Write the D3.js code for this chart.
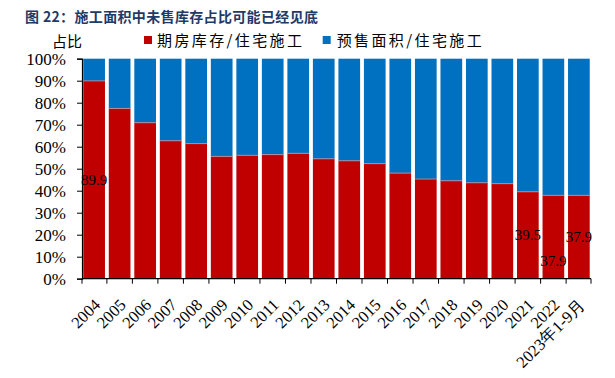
<!DOCTYPE html>
<html>
<head>
<meta charset="utf-8">
<script src="https://cdn.jsdelivr.net/npm/d3@7"></script>
<style>
    body { margin: 0; background: #fff; }
</style>
</head>
<body>
<div id="chart-container"></div>
<script>
// Data
const years = ['2004', '2005', '2006', '2007', '2008', '2009', '2010', '2011', '2012', '2013',
    '2014', '2015', '2016', '2017', '2018', '2019', '2020', '2021', '2022', '2023年1-9月'];
const inventoryShare = [89.9, 77.4, 70.9, 62.7, 61.4, 55.6, 56.1, 56.4, 57.0, 54.5,
    53.6, 52.3, 48.0, 45.3, 44.5, 43.6, 43.2, 39.5, 37.9, 37.9];
const presaleShare = [10.1, 22.6, 29.1, 37.3, 38.6, 44.4, 43.9, 43.6, 43.0, 45.5,
    46.4, 47.7, 52.0, 54.7, 55.5, 56.4, 56.8, 60.5, 62.1, 62.1];
const labelledYears = ['2004', '2021', '2022', '2023年1-9月'];
const yTicks = [0, 10, 20, 30, 40, 50, 60, 70, 80, 90, 100];
const seriesNames = ['期房库存/住宅施工', '预售面积/住宅施工'];

const W = 615, H = 378;
const margin = {top: 58.7, right: 24, bottom: 99.3, left: 82};
const width = W - margin.left - margin.right;
const height = H - margin.top - margin.bottom;
const serif = '"Times New Roman", "Liberation Serif", "DejaVu Serif", serif';
const cjk = '"Noto Sans CJK SC", sans-serif';
const red = '#C00000', blue = '#0070C0';

const svg = d3.select('#chart-container')
    .append('svg')
    .attr('width', W)
    .attr('height', H);

// Title
svg.append('text')
    .attr('x', 25)
    .attr('y', 22)
    .attr('font-family', cjk)
    .attr('font-weight', 'bold')
    .attr('font-size', 14)
    .attr('fill', '#1F3A68')
    .attr('textLength', 293)
    .attr('lengthAdjust', 'spacing')
    .text('图 22：施工面积中未售库存占比可能已经见底');

// Y unit
svg.append('text')
    .attr('x', 52)
    .attr('y', 47)
    .attr('font-family', cjk)
    .attr('font-size', 15)
    .attr('fill', '#000')
    .text('占比');

// Legend
const legendPos = [{sx: 144, tx: 157, tw: 145}, {sx: 322.7, tx: 336.7, tw: 145}];
[red, blue].forEach((c, i) => {
    svg.append('rect')
        .attr('x', legendPos[i].sx)
        .attr('y', 36)
        .attr('width', 8)
        .attr('height', 8)
        .attr('fill', c);
    svg.append('text')
        .attr('x', legendPos[i].tx)
        .attr('y', 46)
        .attr('font-family', cjk)
        .attr('font-size', 15)
        .attr('fill', '#000')
        .attr('textLength', legendPos[i].tw)
        .attr('lengthAdjust', 'spacing')
        .text(seriesNames[i]);
});

const chartG = svg.append('g')
    .attr('transform', `translate(${margin.left}, ${margin.top})`);

const xScale = d3.scaleBand()
    .domain(years)
    .range([0, width])
    .paddingInner(0.15)
    .paddingOuter(0.05);

const yScale = d3.scaleLinear()
    .domain([0, 100])
    .range([height, 0]);

// Stacked bars
years.forEach((yr, i) => {
    chartG.append('rect')
        .attr('x', xScale(yr))
        .attr('y', yScale(inventoryShare[i]))
        .attr('width', xScale.bandwidth())
        .attr('height', yScale(0) - yScale(inventoryShare[i]))
        .attr('fill', red);
    chartG.append('rect')
        .attr('x', xScale(yr))
        .attr('y', yScale(inventoryShare[i] + presaleShare[i]))
        .attr('width', xScale.bandwidth())
        .attr('height', yScale(inventoryShare[i]) - yScale(inventoryShare[i] + presaleShare[i]))
        .attr('fill', blue);
    // thin light seam between the two parts
    chartG.append('line')
        .attr('x1', xScale(yr))
        .attr('x2', xScale(yr) + xScale.bandwidth())
        .attr('y1', yScale(inventoryShare[i]))
        .attr('y2', yScale(inventoryShare[i]))
        .attr('stroke', '#d98a8a')
        .attr('stroke-width', 0.8);
});

// Value labels
labelledYears.forEach(yr => {
    const i = years.indexOf(yr);
    const extra = yr === '2022' ? 24 : 0; // this one sits lower in the original
    chartG.append('text')
        .attr('x', xScale(yr) + xScale.bandwidth() / 2)
        .attr('y', yScale(inventoryShare[i] / 2) + extra)
        .attr('dy', '0.35em')
        .attr('text-anchor', 'middle')
        .attr('font-family', serif)
        .attr('font-size', 15)
        .attr('fill', '#000')
        .text(inventoryShare[i].toFixed(1));
});

// Y axis
const yAxis = chartG.append('g')
    .call(d3.axisLeft(yScale)
        .tickValues(yTicks)
        .tickSize(5)
        .tickPadding(11)
        .tickFormat(d => d + '%'));
yAxis.selectAll('text')
    .attr('font-family', serif)
    .attr('font-size', 17)
    .attr('fill', '#000');
yAxis.select('.domain').attr('stroke', '#000').attr('stroke-width', 1.2);

// X axis: line with ticks on band edges
const xAxisG = chartG.append('g')
    .attr('transform', `translate(0, ${height})`);
xAxisG.append('line')
    .attr('x1', 0).attr('x2', width)
    .attr('y1', 0).attr('y2', 0)
    .attr('stroke', '#000')
    .attr('stroke-width', 1.2);
const step = xScale.step();
const edges = years.map((yr, i) => xScale(yr) - step * xScale.paddingInner() / 2).concat([width]);
edges[0] = 0;
xAxisG.selectAll('.tk')
    .data(edges)
    .enter()
    .append('line')
    .attr('x1', d => d).attr('x2', d => d)
    .attr('y1', 0).attr('y2', 5)
    .attr('stroke', '#000');

xAxisG.selectAll('.lbl')
    .data(years)
    .enter()
    .append('text')
    .attr('transform', d => `translate(${xScale(d) + xScale.bandwidth() / 2 - 1}, 19) rotate(-45)`)
    .attr('text-anchor', 'end')
    .attr('dy', '0.7em')
    .attr('font-family', serif)
    .attr('font-size', 16.5)
    .attr('fill', '#000')
    .text(d => d);
</script>
</body>
</html>
